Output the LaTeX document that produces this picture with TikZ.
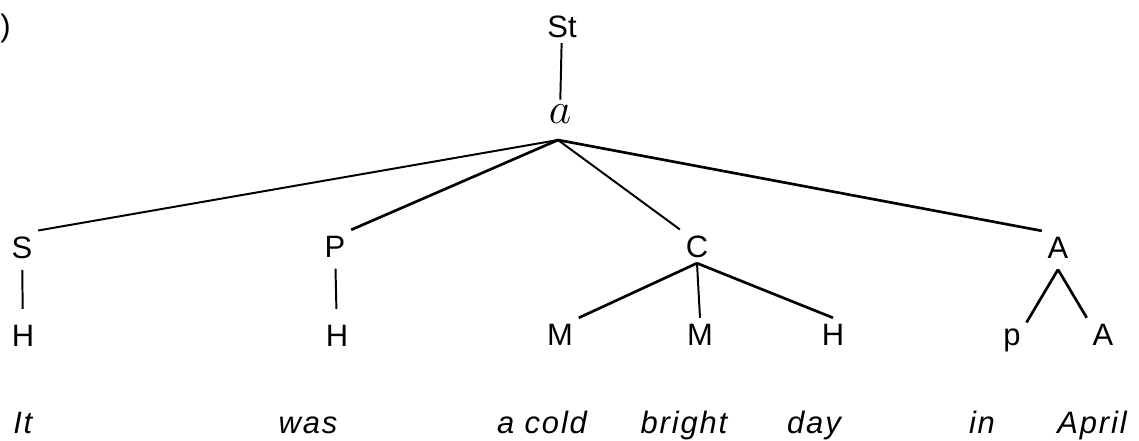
\documentclass[tikz,border=0pt]{standalone}
\usepackage{fix-cm}
\usepackage{fontspec}
\setmainfont{Liberation Sans}
\usepackage{tikz}
\usetikzlibrary{positioning}
\tikzset{cat/.style={inner sep=4pt, font=\fontsize{22}{22}\selectfont},
wrd/.style={inner sep=0pt, anchor=base, font=\fontsize{22}{22}\selectfont\itshape\addfontfeature{LetterSpace=6}},
branch/.style={line width=1.4pt},
heavy/.style={branch,line width=1.9pt},
stem/.style={branch,shorten <=4pt,shorten >=7pt}}

\begin{document}
\begin{tikzpicture}[x=0.025cm,y=-0.025cm]
  \useasboundingbox (0,0) rectangle (1139,441);
  \node (tag) [inner sep=0pt, anchor=base west, font=\fontsize{22}{22}\selectfont] at (0,36) {)};
  \node (st) [cat, anchor=base] at (562,37) {St};
  \node (al) [cat, anchor=base, inner sep=3pt, font=\fontsize{31}{31}\selectfont] at (560,123) {$a$};
  \coordinate (top) at (558,140);
  \node (s) [cat, anchor=base] at (22,258) {S};
  \node (p) [cat, anchor=base] at (335,257) {P};
  \node (c) [cat, anchor=base] at (697,257) {C};
  \node (aa) [cat, anchor=base] at (1058,258) {A};
  \coordinate [below=4pt of aa] (fork);
  \node (h1) [cat, anchor=base] at (23,346) {H};
  \node (h2) [cat, anchor=base] at (337,346) {H};
  \node (m1) [cat, anchor=base] at (560,345) {M};
  \node (m2) [cat, anchor=base] at (700,345) {M};
  \node (h3) [cat, anchor=base] at (833,345) {H};
  \node (pp) [cat, anchor=base] at (1012,345) {p};
  \node (a2) [cat, anchor=base] at (1103,345) {A};
  \node (w1) [wrd, anchor=base west] at (13,433) {It};
  \node (w2) [wrd] at (308,433) {was};
  \node (w3) [wrd] at (542,433) {a cold};
  \node (w4) [wrd] at (684,433) {bright};
  \node (w5) [wrd] at (814,433) {day};
  \node (w6) [wrd] at (982,433) {in};
  \node (w7) [wrd] at (1092,433) {April};
  \draw [branch] (st) -- (al);
  \draw [branch] (top) -- (s.north east);
  \draw [heavy] (top) -- (p.north east);
  \draw [branch] (top) -- (c.north west);
  \draw [heavy] (top) -- (aa.north west);
  \draw [stem] (s) -- (h1);
  \draw [stem] (p) -- (h2);
  \draw [heavy] (c.south) -- (m1.north east);
  \draw [branch] (c.south) -- (m2.north);
  \draw [heavy] (c.south) -- (h3.north);
  \draw [heavy] (fork) -- (pp.north east);
  \draw [heavy] (fork) -- (a2.north west);
\end{tikzpicture}
\end{document}
